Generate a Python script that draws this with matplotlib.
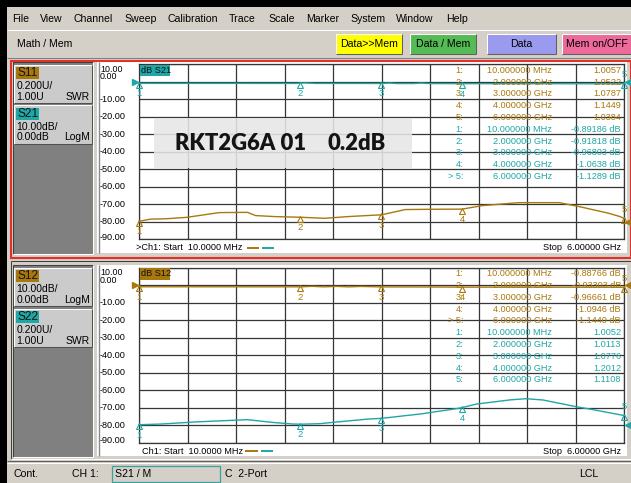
import matplotlib
matplotlib.use("Agg")
import matplotlib.pyplot as plt
import numpy as np
from matplotlib.patches import Rectangle
from matplotlib.transforms import offset_copy

W, H = 631, 483

# ---- data ----
menu_items = ["File", "View", "Channel", "Sweep", "Calibration", "Trace",
              "Scale", "Marker", "System", "Window", "Help"]
buttons = ["Data>>Mem", "Data / Mem", "Data", "Mem on/OFF"]

y_tick_values = [-10, -20, -30, -40, -50, -60, -70, -80, -90]
start_label = "Ch1: Start  10.0000 MHz"
stop_label = "Stop  6.00000 GHz"
freq_start, freq_stop = 0.01, 6.0  # GHz

marker_ids = ["1:", "2:", "3:", "4:", "5:"]
marker_freqs = [0.01, 2.0, 3.0, 4.0, 6.0]
marker_freq_text = ["10.000000 MHz", "2.000000 GHz", "3.000000 GHz",
                    "4.000000 GHz", "6.000000 GHz"]

# upper window: S11 (SWR) and S21 (LogM)
s11_freq = [0.01, 0.15, 0.35, 0.6, 0.8, 1.0, 1.35, 1.45, 1.7, 2.0, 2.3, 2.6,
            2.9, 3.0, 3.3, 3.6, 4.0, 4.25, 4.7, 5.2, 5.45, 5.8, 5.95, 6.0]
s11_swr = [1.0057, 1.03, 1.035, 1.051, 1.078, 1.105, 1.108, 1.071, 1.059,
           1.0522, 1.04, 1.06, 1.075, 1.0787, 1.14, 1.143, 1.1449, 1.185,
           1.219, 1.219, 1.173, 1.10, 1.06, 1.0384]
s21_freq = [0.01, 0.4, 0.8, 1.2, 1.6, 1.95, 2.05, 2.2, 2.6, 3.0, 3.1, 3.2,
            3.4, 3.5, 3.6, 4.0, 4.5, 5.0, 5.5, 6.0]
s21_db = [-0.89, -0.90, -0.91, -0.90, -0.93, -0.92, -0.65, -0.93, -0.95,
          -0.97, -0.7, -0.98, -0.99, -0.72, -1.01, -1.06, -1.08, -1.10,
          -1.12, -1.13]
s11_marker_vals = [1.0057, 1.0522, 1.0787, 1.1449, 1.0384]
s21_marker_vals = [-0.89186, -0.91818, -0.96803, -1.0638, -1.1289]
s11_marker_text = ["1.0057", "1.0522", "1.0787", "1.1449", "1.0384"]
s21_marker_text = ["-0.89186 dB", "-0.91818 dB", "-0.96803 dB",
                   "-1.0638 dB", "-1.1289 dB"]

# lower window: S12 (LogM) and S22 (SWR)
s12_freq = [0.01, 0.5, 1.0, 1.5, 2.0, 2.15, 2.3, 2.45, 2.6, 2.75, 3.0, 3.5,
            4.0, 4.5, 5.0, 5.5, 6.0]
s12_db = [-0.89, -0.90, -0.91, -0.92, -0.933, -0.65, -0.94, -0.68, -0.95,
          -0.7, -0.967, -1.0, -1.095, -1.11, -1.12, -1.13, -1.144]
s22_freq = [0.01, 0.3, 0.7, 1.35, 1.66, 1.9, 2.0, 2.24, 2.4, 2.85, 3.0, 3.5,
            3.93, 4.0, 4.18, 4.6, 4.79, 5.0, 5.39, 5.62, 6.0]
s22_swr = [1.0052, 1.014, 1.037, 1.063, 1.032, 1.014, 1.0113, 1.017, 1.032,
           1.071, 1.0776, 1.13, 1.189, 1.2012, 1.242, 1.29, 1.303, 1.288,
           1.215, 1.177, 1.1108]
s12_marker_vals = [-0.88766, -0.93303, -0.96661, -1.0946, -1.1440]
s22_marker_vals = [1.0052, 1.0113, 1.0776, 1.2012, 1.1108]
s12_marker_text = ["-0.88766 dB", "-0.93303 dB", "-0.96661 dB",
                   "-1.0946 dB", "-1.1440 dB"]
s22_marker_text = ["1.0052", "1.0113", "1.0776", "1.2012", "1.1108"]

# ---- style ----
UI = "#d4d0c8"
BROWN = "#a8780c"
TEAL = "#1fa6a6"
GRIDC = "#363636"
FONT = "Liberation Sans"

fig = plt.figure(figsize=(W / 100, H / 100), dpi=100)
fig.patch.set_facecolor(UI)


def pixel_axes(z):
    a = fig.add_axes([0, 0, 1, 1], zorder=z)
    a.set_xlim(0, W)
    a.set_ylim(H, 0)
    a.axis("off")
    return a


bg = pixel_axes(-1)
ov = pixel_axes(5)


def rect(a, x0, y0, x1, y1, fc, ec="none", lw=0.0, alpha=1.0, z=1):
    a.add_patch(Rectangle((x0, y0), x1 - x0, y1 - y0, fc=fc, ec=ec, lw=lw,
                          alpha=alpha, zorder=z))


def line(a, xs, ys, color, lw=0.75, z=2):
    a.plot(xs, ys, color=color, lw=lw, solid_capstyle="butt", zorder=z)


def bevel(a, x0, y0, x1, y1, tl, br, lw=0.75):
    line(a, [x0, x1], [y0, y0], tl, lw)
    line(a, [x0, x0], [y0, y1], tl, lw)
    line(a, [x0, x1], [y1, y1], br, lw)
    line(a, [x1, x1], [y0, y1], br, lw)


def txt(a, x, y, s, size=7.5, color="black", ha="left", **kw):
    a.text(x, y, s, fontsize=size, color=color, ha=ha, va="center",
           family=FONT, zorder=6, **kw)


# ---- window chrome ----
rect(bg, 0, 0, W, 7, "black")
rect(bg, 0, 0, 7, H, "black")
menu_x = [12, 40, 74, 124, 168, 229, 268, 306, 350, 396, 446]
for name, x in zip(menu_items, menu_x):
    txt(bg, x, 18.5, name, size=7.6)
line(bg, [7, W], [30, 30], "#ffffff")
txt(bg, 17, 44, "Math / Mem", size=7.6)
button_x = [(336, 402), (410, 476), (487, 556), (562, 631)]
button_c = ["#ffff00", "#55bb55", "#9a9aee", "#ee6a9a"]
for label, (x0, x1), c in zip(buttons, button_x, button_c):
    rect(bg, x0, 34, x1, 54, c)
    bevel(bg, x0, 34, x1, 54, "#ffffff", "#606060")
    txt(bg, (x0 + x1) / 2, 44, label, size=7.6, ha="center")
line(bg, [7, W], [57.5, 57.5], "#808080")

GX0, GX1, GH = 139, 624, 175.0


def draw_window(top, active, boxes, logm, swr, table_rows):
    """top = pixel y of the top grid line."""
    dy = top - 64.3
    # frame
    if active:
        rect(bg, 10.5, 60.5, 630.5, 257.5, "none", ec="#e4302a", lw=1.5, z=3)
    else:
        bevel(bg, 10.5, 260.5, 630.5, 459, "#404040", "#ffffff")
    # left info panel
    rect(bg, 12.5, 62 + dy, 93, 254 + dy, "#808080")
    bevel(bg, 12.5, 62 + dy, 93, 254 + dy, "#404040", "#ffffff")
    for i, (name, col, l1, l2a, l2b) in enumerate(boxes):
        y0 = 64.5 + dy + i * 40.7
        rect(bg, 14, y0, 91.5, y0 + 38.5, "#cbcbcb")
        bevel(bg, 14, y0, 91.5, y0 + 38.5, "#ffffff", "#505050")
        rect(bg, 16, y0 + 2.3, 38.5, y0 + 14.3, col)
        txt(bg, 17, y0 + 8.5, name, size=8.6, color="#141414")
        txt(bg, 16.5, y0 + 21.5, l1)
        txt(bg, 16.5, y0 + 32, l2a)
        txt(bg, 90, y0 + 32, l2b, ha="right")
    # plot area background
    rect(bg, 97, 62 + dy, 627, 253 + dy, "white")
    line(bg, [98.5, 98.5], [62 + dy, 253 + dy], "#8a8a8a", lw=1.0)

    ax = fig.add_axes([GX0 / W, 1 - (top + GH) / H, (GX1 - GX0) / W, GH / H])
    ax.set_xlim(freq_start, freq_stop)
    ax.set_ylim(-90, 10)
    ax.set_xticks(np.linspace(freq_start, freq_stop, 11))
    ax.set_yticks(np.arange(-90, 11, 10))
    ax.grid(True, color=GRIDC, lw=0.9)
    ax.tick_params(length=0, labelbottom=False, labelleft=False)
    for s in ax.spines.values():
        s.set_color(GRIDC)
        s.set_linewidth(0.9)
    ax.patch.set_alpha(0)

    ax2 = ax.twinx()
    ax2.set_ylim(0.8, 2.8)  # 0.2U/div, 1.00U at the -80 line
    ax2.axis("off")

    # y labels
    txt(ov, 100, top + 4.8, "10.00", size=6.4)
    txt(ov, 100, top + 12.4, "0.00", size=6.4)
    ytr = ax.get_yaxis_transform()
    for v in y_tick_values:
        yy = v + (1.3 if v == -90 else 0)
        ax.text((100 - GX0) / (GX1 - GX0), yy, f"{v:.2f}", transform=ytr,
                fontsize=6.6, family=FONT, ha="left", va="center",
                clip_on=False)

    # traces
    (lf, lv, lcol, lname, lmk), (sf, sv, scol, smk) = logm, swr
    ax.plot(lf, lv, color=lcol, lw=1.0, zorder=4, clip_on=False)
    ax2.plot(sf, sv, color=scol, lw=1.0, zorder=4, clip_on=False)

    # trace label
    rect(ov, 139.5, top + 0.6, 170, top + 12, lcol)
    txt(ov, 141, top + 6.3, lname, size=6.6, color="#101010")

    # reference arrows
    ax.plot([freq_start], [0], marker=">", ms=5, color=lcol, clip_on=False,
            transform=offset_copy(ax.transData, fig=fig, x=-4, y=0,
                                  units="dots"), zorder=5)
    ax.plot([freq_stop], [0], marker="<", ms=4.5, color=lcol, clip_on=False,
            transform=offset_copy(ax.transData, fig=fig, x=4, y=0,
                                  units="dots"), zorder=5)
    ax2.plot([freq_stop], [1.0], marker="<", ms=4.5, color=scol,
             clip_on=False, zorder=5,
             transform=offset_copy(ax2.transData, fig=fig, x=4, y=0,
                                   units="dots"))

    # markers
    for a, vals, col in ((ax, lmk, lcol), (ax2, smk, scol)):
        tri = offset_copy(a.transData, fig=fig, x=0, y=-1.5, units="dots")
        a.plot(marker_freqs, vals, ls="none", marker="^", ms=5, mfc="none",
               mec=col, mew=0.8, transform=tri, clip_on=False, zorder=5)
        below = offset_copy(a.transData, fig=fig, x=0, y=-10.5, units="dots")
        above = offset_copy(a.transData, fig=fig, x=0, y=9, units="dots")
        for k, (f, v) in enumerate(zip(marker_freqs, vals)):
            tr = above if k == 4 else below
            a.text(f, v, str(k + 1), transform=tr, fontsize=6.8, color=col,
                   ha="center", va="center", family=FONT, clip_on=False,
                   zorder=5)

    # marker table
    for r, (col, idx, ftxt, vtxt) in enumerate(table_rows):
        yy = top + 6 + r * 11.8
        txt(ov, 463, yy, idx, size=6.6, color=col, ha="right")
        txt(ov, 552, yy, ftxt, size=6.6, color=col, ha="right")
        txt(ov, 621, yy, vtxt, size=6.6, color=col, ha="right")

    # footer
    yb = top + GH + 8.5
    if active:
        txt(ov, 136.5, yb, ">" + start_label, size=6.6)
        lx = 246.5
    else:
        txt(ov, 141.5, yb, start_label, size=6.6)
        lx = 245
    line(ov, [lx, lx + 12.5], [yb, yb], BROWN, lw=1.4, z=6)
    line(ov, [lx + 15.5, lx + 27.5], [yb, yb], TEAL, lw=1.4, z=6)
    txt(ov, 621, yb, stop_label, size=6.6, ha="right")
    return ax


def rows(first_col, first_text, second_col, second_text, active_row):
    out = []
    for col, texts, act in ((first_col, first_text, active_row[0]),
                            (second_col, second_text, active_row[1])):
        for k in range(5):
            idx = marker_ids[k]
            if act and k == 4:
                idx = "> " + idx
            out.append((col, idx, marker_freq_text[k], texts[k]))
    return out


draw_window(
    64.3, True,
    [("S11", BROWN, "0.200U/", "1.00U", "SWR"),
     ("S21", TEAL, "10.00dB/", "0.00dB", "LogM")],
    (s21_freq, s21_db, TEAL, "dB S21", s21_marker_vals),
    (s11_freq, s11_swr, BROWN, s11_marker_vals),
    rows(BROWN, s11_marker_text, TEAL, s21_marker_text, (False, True)),
)

# title box over the upper grid
rect(ov, 154, 117.5, 412, 168, "#e6e6e6", alpha=0.88, z=5)
ov.text(175, 143.5, "RKT2G6A 01", fontsize=15.8, family="Lato",
        fontweight="heavy", color="#141414", va="center", zorder=6)
ov.text(327, 143.5, "0.2dB", fontsize=15.8, family="Lato",
        fontweight="heavy", color="#141414", va="center", zorder=6)

draw_window(
    267.7, False,
    [("S12", BROWN, "10.00dB/", "0.00dB", "LogM"),
     ("S22", TEAL, "0.200U/", "1.00U", "SWR")],
    (s12_freq, s12_db, BROWN, "dB S12", s12_marker_vals),
    (s22_freq, s22_swr, TEAL, s22_marker_vals),
    rows(BROWN, s12_marker_text, TEAL, s22_marker_text, (True, False)),
)

# ---- status bar ----
line(bg, [7, W], [460.5, 460.5], "#606060")
line(bg, [7, W], [462.5, 462.5], "#ffffff")
txt(bg, 14, 474, "Cont.", size=7.6)
txt(bg, 72, 474, "CH 1:", size=7.6)
rect(bg, 112, 465.5, 220, 482, "none", ec="#3aa0a0", lw=0.9, z=3)
txt(bg, 115, 474, "S21 / M", size=7.6)
txt(bg, 225, 474, "C  2-Port", size=7.6)
txt(bg, 579, 474, "LCL", size=7.6)

fig.savefig("out.png", dpi=100, facecolor=fig.get_facecolor())
